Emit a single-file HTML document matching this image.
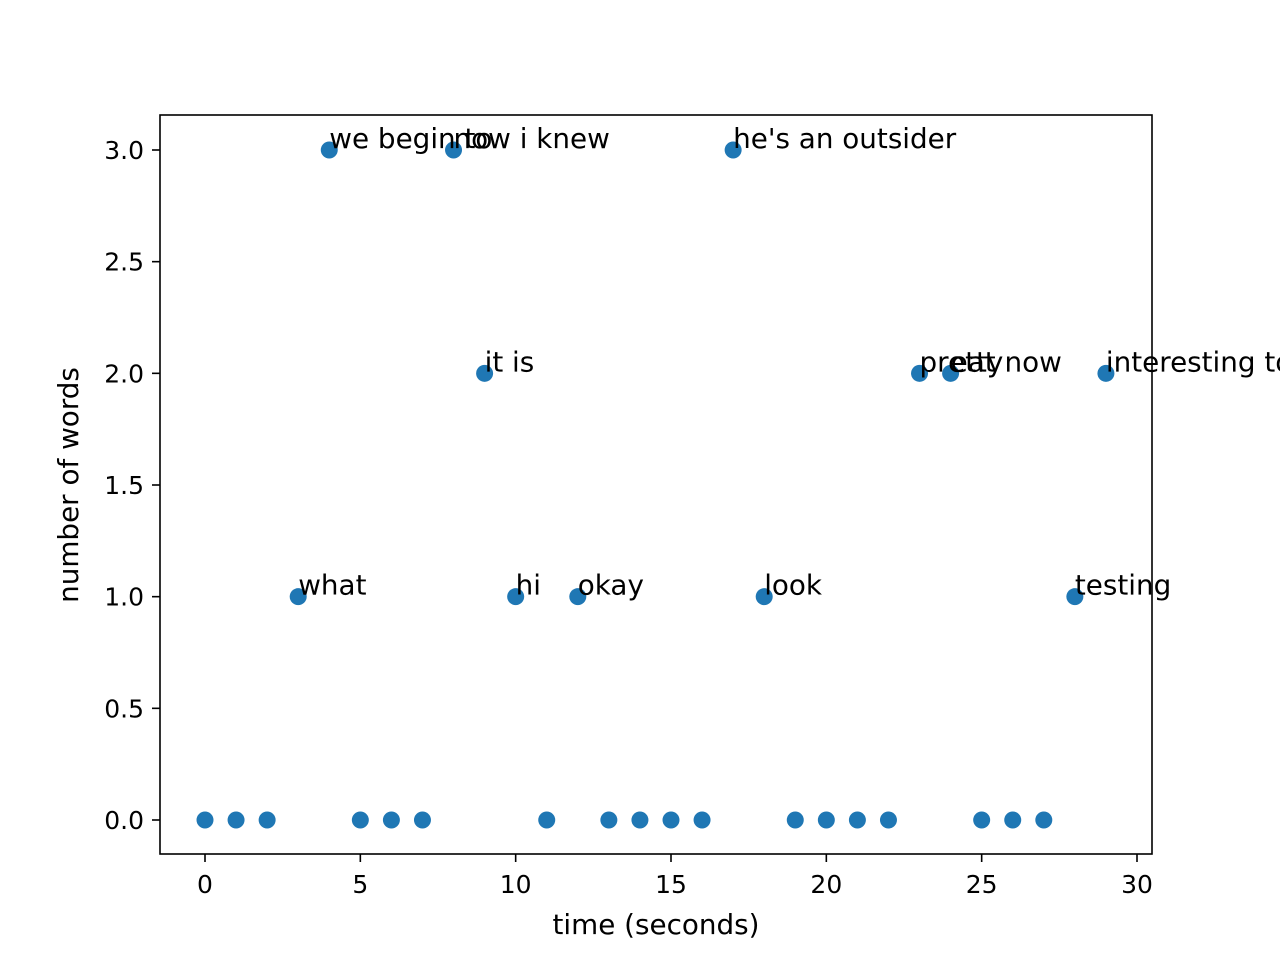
<!DOCTYPE html>
<html><head><meta charset="utf-8"><style>body{margin:0;background:#fff}svg{display:block}text{font-family:"DejaVu Sans","Liberation Sans",sans-serif;fill:#000}</style></head>
<body>
<svg id="chart" width="1280" height="960">
<rect x="160" y="115" width="992" height="739" fill="none" stroke="#000" stroke-width="1.6"/>
<g id="ticks"></g><g id="pts"></g><g id="labels"></g>
<text x="656" y="934" text-anchor="middle" font-size="27.8">time (seconds)</text>
<text transform="translate(78,485) rotate(-90)" text-anchor="middle" font-size="27.8">number of words</text>
</svg>
<script>
const counts=[0,0,0,1,3,0,0,0,3,2,1,0,1,0,0,0,0,3,1,0,0,0,0,2,2,0,0,0,1,2];
const words=["","","","what","we begin to","","","","now i knew","it is","hi","","okay","","","","","he's an outsider","look","","","","","pretty","eat now","","","","testing","interesting to"];
const xTicks=[0,5,10,15,20,25,30];
const yTicks=[0,0.5,1,1.5,2,2.5,3];
const sx=v=>205+v*(1137-205)/30;
const sy=v=>820-v*(820-150)/3;
const NS="http://www.w3.org/2000/svg";
function mk(t,a,p){const e=document.createElementNS(NS,t);for(const k in a)e.setAttribute(k,a[k]);p.appendChild(e);return e;}
const tk=document.getElementById('ticks');
xTicks.forEach(v=>{const x=sx(v);
const l=mk('line',{x1:x,x2:x,y1:854,y2:862,stroke:'#000','stroke-width':1.6},tk);


const t=mk('text',{x:x,y:893,'text-anchor':'middle','font-size':25},tk);t.textContent=v;

});
yTicks.forEach(v=>{const y=sy(v);
const l=mk('line',{x1:152,x2:160,y1:y,y2:y,stroke:'#000','stroke-width':1.6},tk);


const t=mk('text',{x:144,y:y+9,'text-anchor':'end','font-size':25},tk);t.textContent=v.toFixed(1);

});
const pg=document.getElementById('pts'),lg=document.getElementById('labels');
counts.forEach((c,i)=>{
const p=mk('circle',{cx:sx(i),cy:sy(c),r:8.5,fill:'#1f77b4'},pg);


if(words[i]){const t=mk('text',{x:sx(i),y:sy(c)-2,'font-size':27.8},lg);t.textContent=words[i];

}
});
</script>
</body></html>
